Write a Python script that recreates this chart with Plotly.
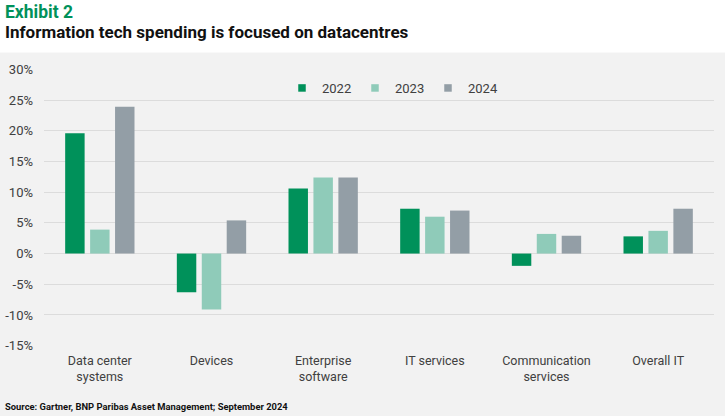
import plotly.graph_objects as go

categories = ["Data center<br>systems", "Devices", "Enterprise<br>software", "IT services",
              "Communication<br>services", "Overall IT"]
years = ["2022", "2023", "2024"]
values_2022 = [19.6, -6.3, 10.6, 7.3, -2.0, 2.8]
values_2023 = [3.9, -9.1, 12.4, 6.0, 3.2, 3.7]
values_2024 = [23.9, 5.4, 12.4, 7.0, 2.9, 7.3]
colors = ["#00915A", "#8FCBB9", "#939EA6"]

tick_vals = [-15, -10, -5, 0, 5, 10, 15, 20, 25, 30]
tick_text = [f"{v}%" for v in tick_vals]

FONT = "Roboto, Liberation Sans, sans-serif"
PW, PH = 670, 277  # plot area size in px

fig = go.Figure()
for name, vals, col in zip(years, [values_2022, values_2023, values_2024], colors):
    fig.add_trace(go.Bar(x=categories, y=vals, name=name, marker_color=col,
                         marker_line_width=0, showlegend=False))
for name, col in zip(years, colors):
    fig.add_trace(go.Scatter(x=[None], y=[None], mode="markers", name=name,
                             marker=dict(symbol="square", size=7.5, color=col)))

fig.update_layout(
    width=725, height=416,
    margin=dict(l=44, r=11, t=69, b=70, autoexpand=False),
    paper_bgcolor="#F2F2F2",
    plot_bgcolor="#F2F2F2",
    barmode="group",
    bargap=0.33,
    bargroupgap=0.22,
    font=dict(family=FONT, size=12, color="#404040"),
    showlegend=True,
    legend=dict(orientation="h", x=(282 - 44) / PW, xanchor="left",
                y=1 - (88 - 69) / PH, yanchor="middle",
                bgcolor="rgba(0,0,0,0)", font=dict(size=13, color="#404040"),
                itemwidth=30, entrywidth=28, tracegroupgap=0),
    xaxis=dict(showgrid=False, showline=False, ticks="", tickfont=dict(size=12.5),
               ticklabelstandoff=5, automargin=False, fixedrange=True),
    yaxis=dict(range=[-15.05, 30.05], tickvals=tick_vals, ticktext=tick_text,
               showgrid=True, gridcolor="#DCDCDC", gridwidth=1,
               zeroline=True, zerolinecolor="#DCDCDC", zerolinewidth=1,
               showline=False, ticks="", ticklabelstandoff=10, automargin=False,
               tickfont=dict(size=13)),
    shapes=[dict(type="rect", xref="paper", yref="paper", x0=-0.1, x1=1.1,
                 y0=1 + (69 - 52.5) / PH, y1=1.5, fillcolor="white",
                 line_width=0, layer="below")],
    annotations=[
        dict(text="<b>Exhibit 2</b>", xref="paper", yref="paper",
             x=-41 / PW, y=1 + (69 - 12) / PH, xanchor="left", yanchor="middle",
             showarrow=False, font=dict(size=17.5, color="#00915A", family=FONT)),
        dict(text="<b>Information tech spending is focused on datacentres</b>",
             xref="paper", yref="paper", x=-41 / PW, y=1 + (69 - 31.5) / PH,
             xanchor="left", yanchor="middle", showarrow=False,
             font=dict(size=17, color="#111111", family=FONT)),
        dict(text="<b>Source: Gartner, BNP Paribas Asset Management; September 2024</b>",
             xref="paper", yref="paper", x=-41 / PW, y=-(406 - 346) / PH,
             xanchor="left", yanchor="middle", showarrow=False,
             font=dict(size=9.4, color="#111111", family=FONT)),
    ],
)

fig.write_html("out.html", config={"displayModeBar": False},
               post_script="document.body.style.margin='0';")
